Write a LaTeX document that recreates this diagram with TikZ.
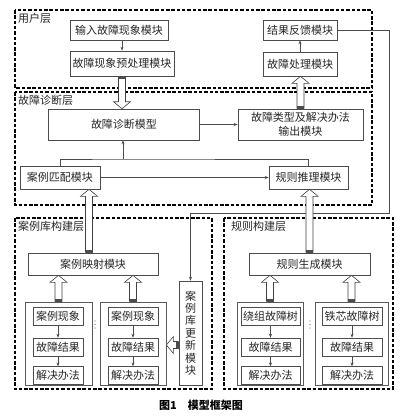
\documentclass[tikz,border=0pt]{standalone}
\usepackage{fontspec}
\setmainfont{Noto Sans CJK SC}
\usetikzlibrary{positioning,calc,arrows.meta}

% wide open arrow with a dark cap at its tail
\newcommand{\hollowarrow}[2]{%
  \coordinate (ha-s) at (#1);
  \coordinate (ha-e) at (#2);
  \coordinate (ha-b) at ($(ha-e)!7pt!(ha-s)$);
  \coordinate (ha-c) at ($(ha-s)!3pt!(ha-e)$);
  \draw[black!75,line width=.6pt,fill=white]
    ($(ha-s)!3.5pt!90:(ha-e)$) -- ($(ha-b)!3.5pt!90:(ha-e)$) -- ($(ha-b)!8.5pt!90:(ha-e)$)
    -- (ha-e) -- ($(ha-b)!8.5pt!-90:(ha-e)$) -- ($(ha-b)!3.5pt!-90:(ha-e)$)
    -- ($(ha-s)!3.5pt!-90:(ha-e)$);
  \fill[black!70] ($(ha-s)!3.5pt!90:(ha-e)$) -- ($(ha-c)!3.5pt!90:(ha-e)$)
    -- ($(ha-c)!3.5pt!-90:(ha-e)$) -- ($(ha-s)!3.5pt!-90:(ha-e)$) -- cycle;
}

\begin{document}
\begin{tikzpicture}[x=1pt,y=-1pt,
box/.style={draw=black!70,line width=.6pt,rectangle,inner sep=1pt,align=center,text=black!85,font=\fontsize{11}{14}\selectfont},
grp/.style={draw=black!65,line width=.8pt,rectangle},
layer/.style={draw=black,line width=1.2pt,dash pattern=on 3.5pt off 1.8pt},
lab/.style={anchor=north west,inner sep=1pt,text=black!85,font=\fontsize{11}{13}\selectfont},
arr/.style={draw=black!70,line width=.6pt,-{Stealth[length=4pt,width=3pt]}},
line/.style={draw=black!70,line width=.6pt}]
\useasboundingbox (0,0) rectangle (409,416);

% layers
\draw[layer] (15,10) rectangle (372,88);
\node (userlab) [lab] at (17,12) {用户层};
\draw[layer] (15,92) rectangle (372,205);
\node (diaglab) [lab] at (17,94) {故障诊断层};
\draw[layer] (15,218) rectangle (212,389);
\node (caselab) [lab] at (17,220) {案例库构建层};
\draw[layer] (224,218) rectangle (393,389);
\node (rulelab) [lab] at (230,220) {规则构建层};

% user layer
\node (in) [box,minimum width=98pt,minimum height=20pt] at (119,30) {输入故障现象模块};
\node (pre) [box,minimum width=104pt,minimum height=25pt] at (122,63.5) {故障现象预处理模块};
\node (fb) [box,minimum width=74pt,minimum height=20pt] at (300,30) {结果反馈模块};
\node (proc) [box,minimum width=74pt,minimum height=24pt] at (300,64) {故障处理模块};

% diagnosis layer
\node (model) [box,minimum width=151pt,minimum height=31pt] at (124,124.5) {故障诊断模型};
\node (output) [box,minimum width=125pt,minimum height=31pt] at (300.5,124.5) {故障类型及解决办法\\输出模块};
\node (match) [box,minimum width=80pt,minimum height=23pt] at (60,177.5) {案例匹配模块};
\node (rule) [box,minimum width=79pt,minimum height=23pt] at (308.5,177.5) {规则推理模块};

% case base and rule layers
\node (map) [box,minimum width=130pt,minimum height=22pt] at (93,264) {案例映射模块};
\node (gen) [box,minimum width=121pt,minimum height=22pt] at (309.5,264) {规则生成模块};
\node (update) [box,minimum width=23pt,minimum height=104pt,font=\fontsize{11}{12.4}\selectfont] at (190.5,333) {案\\例\\库\\更\\新\\模\\块};

\node (g1) [grp,minimum width=67pt,minimum height=83pt] at (58.5,343.5) {};
\node (g2) [grp,minimum width=66pt,minimum height=83pt] at (133,343.5) {};
\node (g3) [grp,minimum width=66pt,minimum height=83pt] at (270,343.5) {};
\node (g4) [grp,minimum width=73pt,minimum height=83pt] at (351.5,343.5) {};

\foreach \g/\x/\w/\t in {c1/58/50/案例现象,c2/133/50/案例现象,r1/270.5/59/绕组故障树,r2/352/60/铁芯故障树}{
  \node (\g a) [box,minimum width=\w pt,minimum height=18pt] at (\x,316.5) {\t};
  \node (\g b) [box,minimum width=\w pt,minimum height=18pt,below=12pt of \g a] {故障结果};
  \node (\g c) [box,minimum width=\w pt,minimum height=18pt,below=10pt of \g b] {解决办法};
  \draw[arr] (\g a) -- (\g b);
  \draw[arr] (\g b) -- (\g c);
}
% dots between the groups
\foreach \x in {95,310}
  \foreach \y in {321,324.5,328}
    \fill[black!60] (\x,\y) circle (.6pt);

% connectors
\draw[arr] (in.south -| pre.north) -- (pre.north);
\draw[arr] (proc) -- (fb);
\draw[arr] (model) -- (output);
\draw[arr] (match) -- (rule);
\coordinate (jn) at (123,159);
\draw[line] (match.north) |- (jn) -| (rule.north);
\draw[arr] (jn) -- (jn |- model.south);
\coordinate (turn) at (389,213);
\draw[arr] (fb.east) -| (turn) -| (update.north);

% wide arrows
\hollowarrow{pre.south}{pre.south |- model.north}
\hollowarrow{output.north}{output.north |- proc.south}
\coordinate (mapin) at ([xshift=-4pt]map.north);
\hollowarrow{mapin}{mapin |- match.south}
\hollowarrow{gen.north}{gen.north |- rule.south}
\hollowarrow{g1.north}{g1.north |- map.south}
\hollowarrow{g2.north}{g2.north |- map.south}
\hollowarrow{g3.north}{g3.north |- gen.south}
\hollowarrow{g4.north}{g4.north |- gen.south}
\coordinate (updin) at ([yshift=-12pt]update.west);
\hollowarrow{updin}{updin -| g2.east}

\node (caption) [font=\fontsize{11}{13}\selectfont\bfseries] at (201,405) {图1\hspace{1em}模型框架图};
\end{tikzpicture}
\end{document}
